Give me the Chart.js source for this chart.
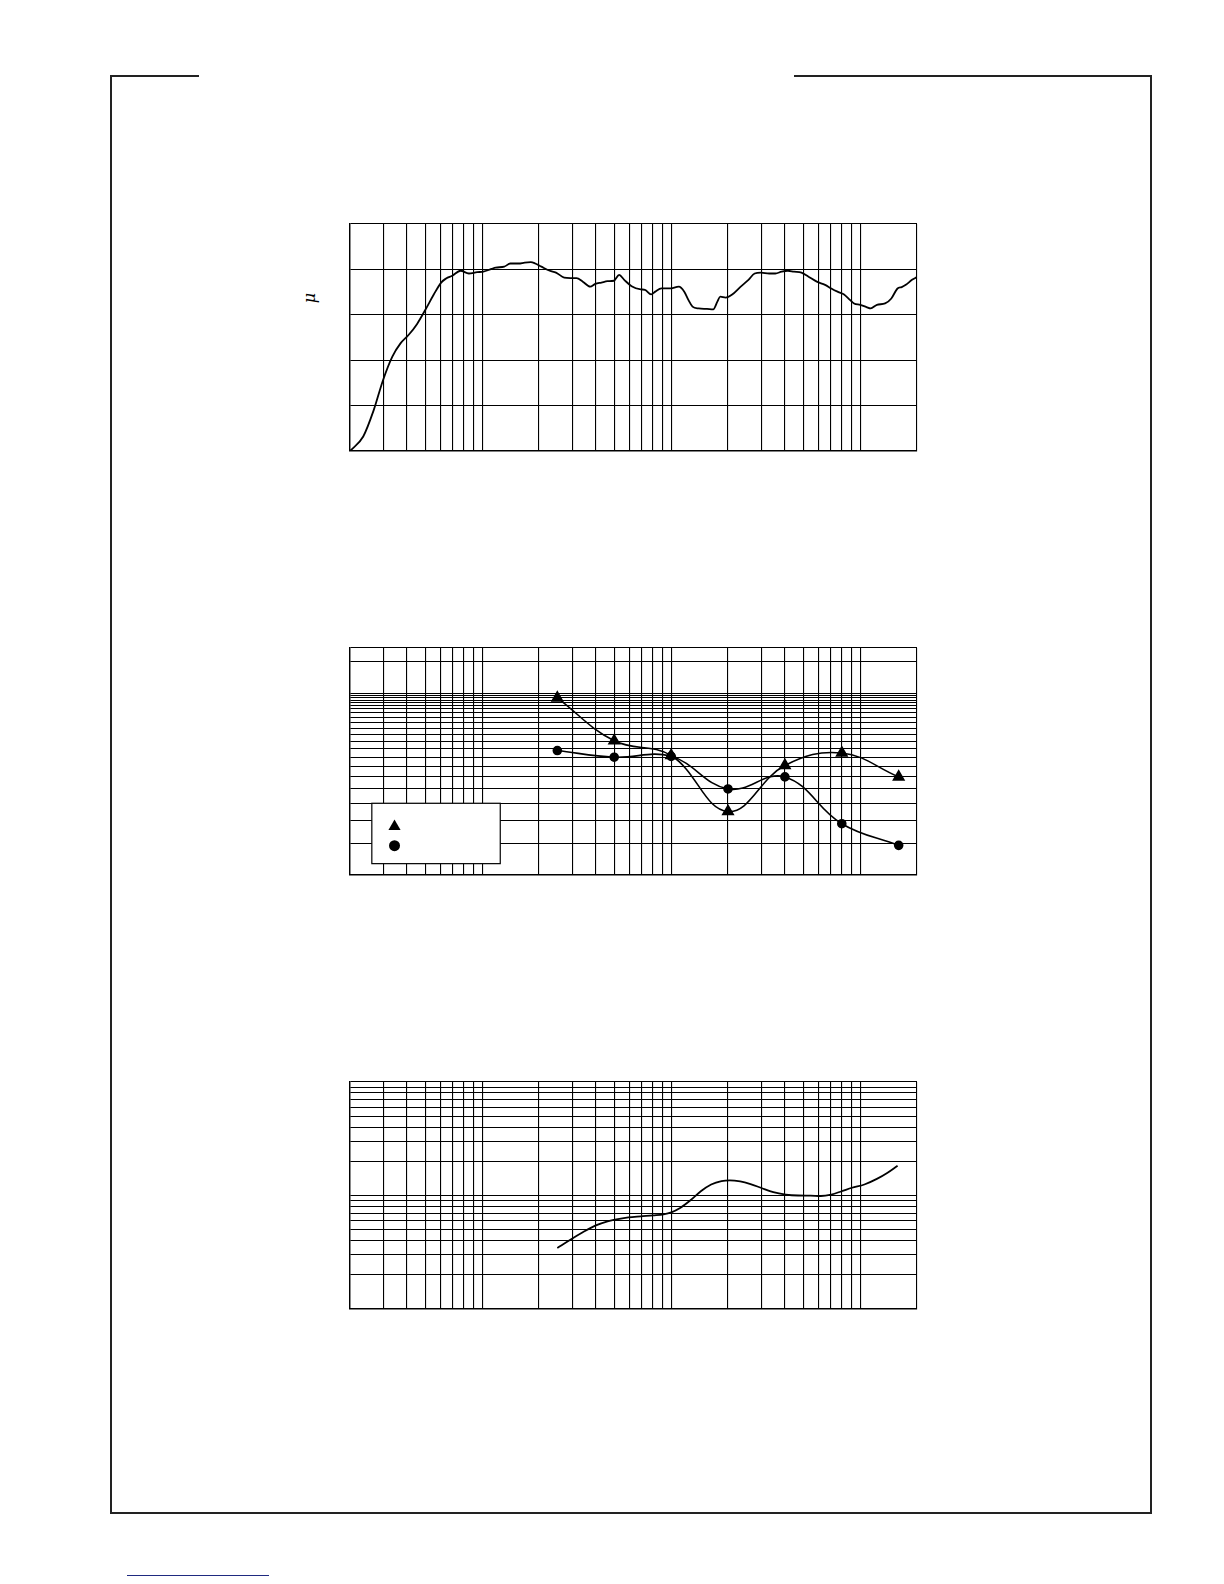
<!DOCTYPE html>
<html>
<head>
<meta charset="utf-8">
<title>Response charts</title>
<script src="https://cdn.jsdelivr.net/npm/chart.js@4.4.0/dist/chart.umd.min.js"></script>
<style>
  html, body { margin: 0; padding: 0; background: #fff; }
  #page { position: relative; width: 1224px; height: 1584px; overflow: hidden; }
  .frame { position: absolute; box-sizing: border-box; border: 2px solid #222; border-top: none; }
  .frame-top { position: absolute; height: 2px; background: #222; }
  .plot { position: absolute; left: 346px; width: 575px; height: 235px; }
  .mu { position: absolute; left: 309px; top: 298px; font: italic 16px 'DejaVu Serif', serif; color: #000;
        transform: translate(-50%, -50%) rotate(-90deg); }
  .link-line { position: absolute; left: 127px; top: 1575px; width: 142px; height: 1px; background: #1f2a80; }
</style>
</head>
<body>
<div id="page">
  <div class="frame" style="left:110px; top:75px; width:1042px; height:1439px;"></div>
  <div class="frame-top" style="left:110px; top:75px; width:89px;"></div>
  <div class="frame-top" style="left:794px; top:75px; width:358px;"></div>

  <span class="mu">μ</span>

  <div class="plot" style="top:220px;"><canvas id="chart-one"></canvas></div>
  <div class="plot" style="top:644px;"><canvas id="chart-two"></canvas></div>
  <div class="plot" style="top:1078px;"><canvas id="chart-three"></canvas></div>

  <div class="link-line"></div>
</div>

<script>
'use strict';

// Grid lines (frequency axis is shared by all three charts)
let freqGrid = [20, 30, 40, 50, 60, 70, 80, 90, 100, 200, 300, 400, 500, 600, 700, 800, 900,
  1000, 2000, 3000, 4000, 5000, 6000, 7000, 8000, 9000, 10000, 20000];
let levelGrid = [0, 10, 20, 30, 40, 50];
let ratioGrid = [2, 3, 4, 5, 6, 7, 8, 9, 10, 11, 12, 13, 14, 15, 16, 16.7, 17.4, 18, 18.6, 19.2, 19.7, 20.2, 30.4, 36.3];
let decadeGrid = [1, 2, 3, 4, 5, 6, 7, 8, 9, 10, 20, 30, 40, 50, 60, 70, 80, 90, 100];

// Chart 1 - response curve
let freqOne = [20, 23.5, 26.7, 29.9, 33.5, 37, 40.9, 45.3, 50.1, 55.4,
  60.7, 64.5, 69.5, 76.9, 85.1, 94.2, 101.5, 112, 118, 131,
  141, 156, 168, 181, 191, 206, 228, 246, 272, 293,
  316, 341, 373, 397, 428, 461, 498, 531, 565, 618,
  691, 727, 784, 824, 889, 984, 1099, 1174, 1234, 1298,
  1400, 1549, 1671, 1757, 1820, 1944, 2096, 2320, 2566, 2768,
  2985, 3302, 3562, 3842, 4144, 4470, 4894, 5334, 5900, 6526,
  7038, 7592, 8190, 8832, 9290, 10020, 10810, 11370, 12270, 13560,
  14630, 15780, 16600, 17460, 18820, 20000];
let levelOne = [0, 3.2, 9.0, 15.6, 20.8, 23.7, 25.6, 28.0, 31.1, 34.4,
  37.1, 38.0, 38.6, 39.7, 39.1, 39.4, 39.5, 40.1, 40.4, 40.6,
  41.3, 41.3, 41.5, 41.6, 41.3, 40.6, 39.7, 39.3, 38.2, 38.1,
  38.1, 37.3, 36.2, 36.8, 37.1, 37.4, 37.5, 38.8, 37.7, 36.3,
  35.6, 35.5, 34.5, 35.1, 35.8, 35.8, 36.2, 35.1, 33.3, 31.8,
  31.4, 31.3, 31.2, 32.9, 34.0, 33.8, 34.4, 36.1, 37.7, 39.1,
  39.3, 39.1, 39.1, 39.5, 39.7, 39.5, 39.3, 38.4, 37.3, 36.6,
  35.8, 35.1, 34.5, 33.3, 32.5, 32.2, 31.7, 31.4, 32.2, 32.5,
  33.6, 35.8, 36.1, 36.6, 37.7, 38.3];

// Chart 2 - two measured series (octave points)
let freqTwo = [250, 500, 1000, 2000, 4000, 8000, 16000];
let triangleValues = [19.2, 11.1, 9.2, 4.5, 8.1, 9.5, 7.0];
let circleValues = [9.8, 9.0, 9.1, 6.0, 7.0, 3.85, 2.92];

// Chart 3 - single curve
let freqThree = [250, 293, 341, 397, 461, 505, 594, 691, 804, 912,
  1003, 1116, 1266, 1436, 1629, 1848, 2044, 2320, 2632, 2985,
  3474, 4040, 4700, 5468, 6202, 7038, 7984, 9058, 10536, 12266,
  13906, 15784];
let valuesThree = [3.45, 4.08, 4.74, 5.42, 5.92, 6.13, 6.42, 6.56, 6.69, 6.83,
  7.11, 7.76, 9.07, 10.9, 12.5, 13.4, 13.6, 13.3, 12.6, 11.7,
  10.7, 10.2, 10.0, 9.97, 9.9, 10.2, 10.9, 11.7, 12.5, 14.0,
  15.8, 18.3];

// pair x and y arrays into points
function toPoints(xs, ys) {
  let pts = [];
  for (let i = 0; i < xs.length; i++) {
    pts.push({ x: xs[i], y: ys[i] });
  }
  return pts;
}

// axis with only grid lines, no labels
function gridAxis(type, min, max, values) {
  return {
    type: type,
    min: min,
    max: max,
    ticks: { display: false },
    grid: { color: '#000', lineWidth: 1.1, drawTicks: false },
    border: { display: true, color: '#000', width: 1.4 },
    afterBuildTicks: function (axis) {
      axis.ticks = values.map(function (v) { return { value: v }; });
    }
  };
}

function baseOptions(yAxis) {
  return {
    responsive: true,
    maintainAspectRatio: false,
    animation: false,
    // fixed padding so every plot area lines up the same
    layout: { padding: 4, autoPadding: false },
    plugins: { legend: { display: false }, tooltip: { enabled: false } },
    scales: {
      x: gridAxis('logarithmic', 20, 20000, freqGrid),
      y: yAxis
    }
  };
}

// Legend box inside chart 2 (markers only)
let legendBox = {
  id: 'legendBox',
  afterDatasetsDraw: function (chart) {
    let a = chart.chartArea;
    let ctx = chart.ctx;
    let w = a.right - a.left;
    let h = a.bottom - a.top;
    let bx = a.left + w * 0.0385;
    let by = a.top + h * 0.684;
    ctx.save();
    ctx.fillStyle = '#fff';
    ctx.strokeStyle = '#000';
    ctx.lineWidth = 1.2;
    ctx.fillRect(bx, by, w * 0.2265, h * 0.266);
    ctx.strokeRect(bx, by, w * 0.2265, h * 0.266);
    ctx.fillStyle = '#000';
    Chart.helpers.drawPoint(ctx, { pointStyle: 'triangle', radius: 7, rotation: 0, borderWidth: 0 },
      a.left + w * 0.0785, a.top + h * 0.786);
    Chart.helpers.drawPoint(ctx, { pointStyle: 'circle', radius: 5.5, rotation: 0, borderWidth: 0 },
      a.left + w * 0.0785, a.top + h * 0.871);
    ctx.restore();
  }
};

// Chart 1
new Chart(document.getElementById('chart-one'), {
  type: 'line',
  data: {
    datasets: [{
      data: toPoints(freqOne, levelOne),
      borderColor: '#000',
      borderWidth: 1.8,
      pointRadius: 0,
      tension: 0.3,
      cubicInterpolationMode: 'monotone'
    }]
  },
  options: baseOptions(gridAxis('linear', 0, 50, levelGrid))
});

// Chart 2
new Chart(document.getElementById('chart-two'), {
  type: 'line',
  data: {
    datasets: [{
      data: toPoints(freqTwo, circleValues),
      borderColor: '#000',
      backgroundColor: '#000',
      borderWidth: 1.6,
      pointStyle: 'circle',
      pointRadius: 4,
      tension: 0.4
    },
    {
      data: toPoints(freqTwo, triangleValues),
      borderColor: '#000',
      backgroundColor: '#000',
      borderWidth: 1.6,
      pointStyle: 'triangle',
      pointRadius: 6,
      tension: 0.4
    }]
  },
  options: baseOptions(gridAxis('logarithmic', 2, 36.3, ratioGrid)),
  plugins: [legendBox]
});

// Chart 3
new Chart(document.getElementById('chart-three'), {
  type: 'line',
  data: {
    datasets: [{
      data: toPoints(freqThree, valuesThree),
      borderColor: '#000',
      borderWidth: 1.8,
      pointRadius: 0,
      tension: 0.4,
      cubicInterpolationMode: 'monotone'
    }]
  },
  options: baseOptions(gridAxis('logarithmic', 1, 100, decadeGrid))
});
</script>
</body>
</html>
